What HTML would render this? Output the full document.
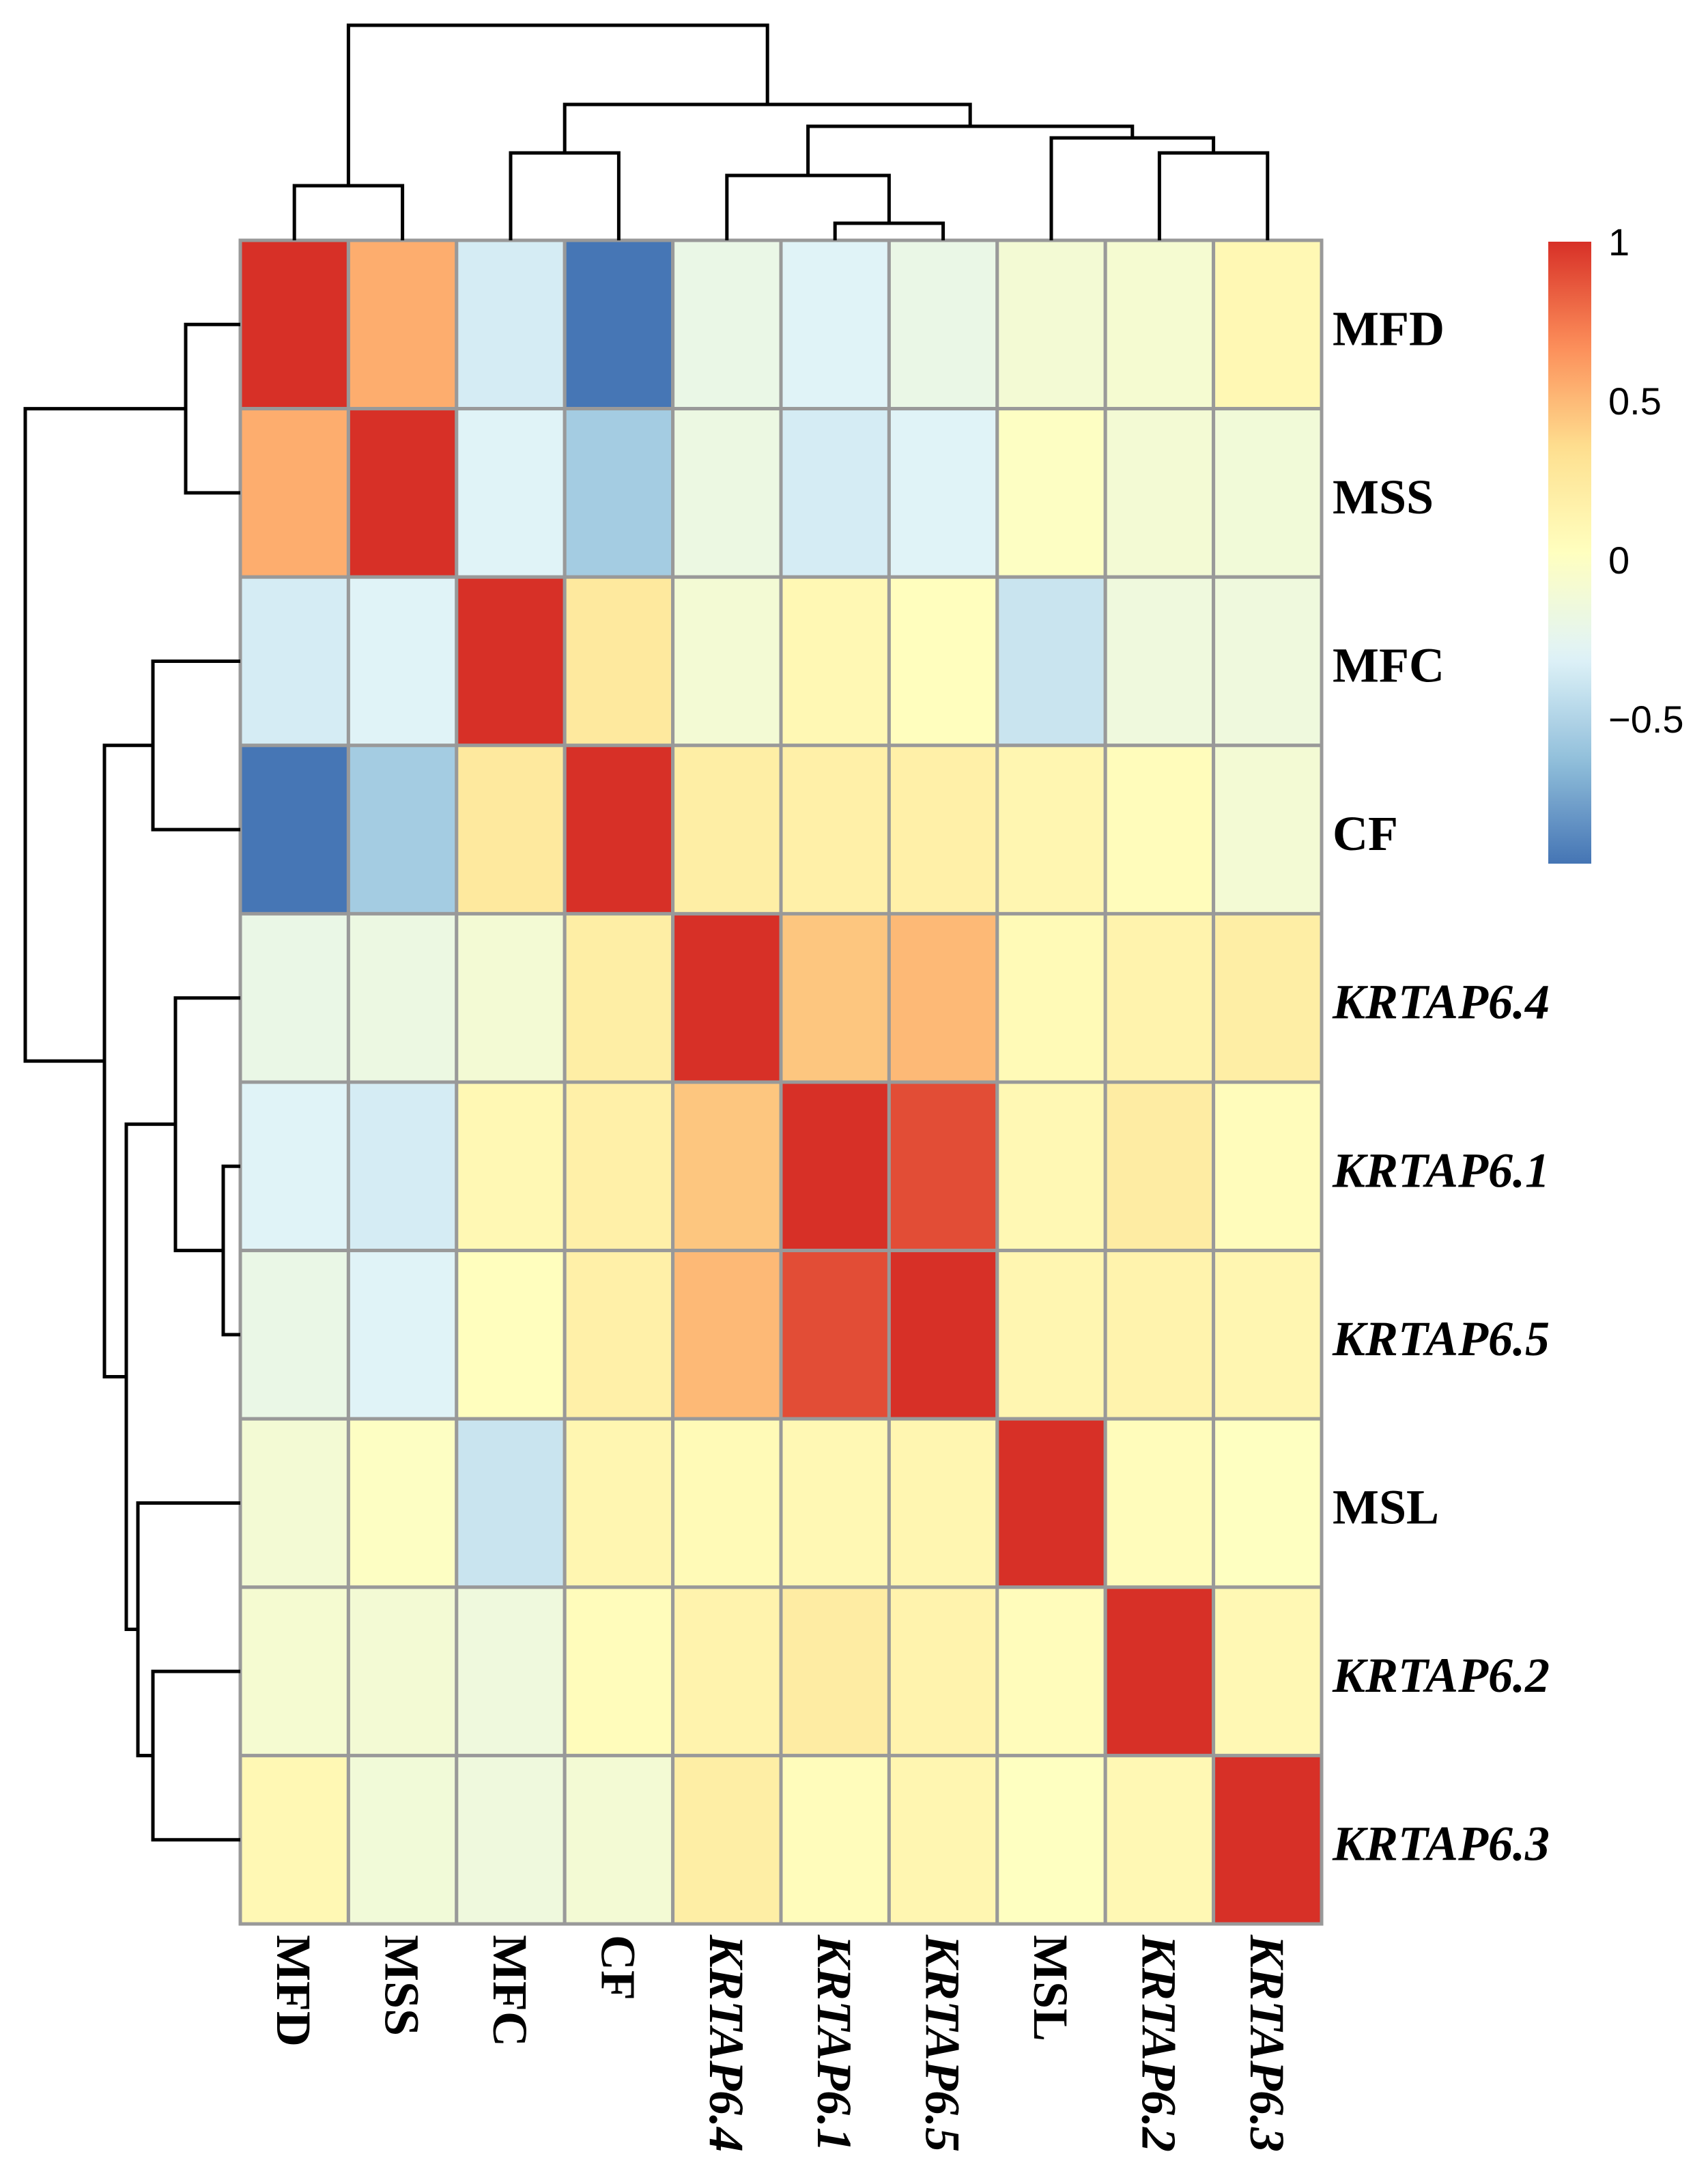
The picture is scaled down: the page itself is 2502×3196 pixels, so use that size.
<!DOCTYPE html>
<html><head><meta charset="utf-8"><style>
html,body{margin:0;padding:0;background:#fff}
svg{display:block}
</style></head><body>
<svg id="chart" xmlns="http://www.w3.org/2000/svg" width="2502" height="3196" viewBox="0 0 2502 3196">
<rect width="2502" height="3196" fill="#fff"/>
<g id="cells"></g>
<g id="dendro"></g>
<g id="labels"></g>
<g id="legend"></g>
</svg>
<script>
const labels = ["MFD","MSS","MFC","CF","KRTAP6.4","KRTAP6.1","KRTAP6.5","MSL","KRTAP6.2","KRTAP6.3"];
const italicFlags = [0,0,0,0,1,1,1,0,1,1];
const rowMFD = [1,0.55,-0.35,-0.95,-0.2,-0.3,-0.2,-0.1,-0.08,0.1];
const rowMSS = [0.55,1,-0.3,-0.55,-0.18,-0.35,-0.3,0,-0.1,-0.12];
const rowMFC = [-0.35,-0.3,1,0.25,-0.1,0.1,0.03,-0.4,-0.15,-0.15];
const rowCF = [-0.95,-0.55,0.25,1,0.2,0.18,0.18,0.12,0.05,-0.1];
const rowK64 = [-0.2,-0.18,-0.1,0.2,1,0.45,0.5,0.08,0.15,0.2];
const rowK61 = [-0.3,-0.35,0.1,0.18,0.45,1,0.9,0.1,0.22,0.05];
const rowK65 = [-0.2,-0.3,0.03,0.18,0.5,0.9,1,0.12,0.15,0.12];
const rowMSL = [-0.1,0,-0.4,0.12,0.08,0.1,0.12,1,0.05,0.01];
const rowK62 = [-0.08,-0.1,-0.15,0.05,0.15,0.22,0.15,0.05,1,0.1];
const rowK63 = [0.1,-0.12,-0.15,-0.1,0.2,0.05,0.12,0.01,0.1,1];
const matrix = [rowMFD,rowMSS,rowMFC,rowCF,rowK64,rowK61,rowK65,rowMSL,rowK62,rowK63];
// dendrogram merges: [leftNode, rightNode, height]; leaves 0..9, internal nodes 10+
const merges = [[5,6,25],[0,1,80],[4,10,95],[8,9,128],[2,3,128],[7,13,150],[12,15,167],[14,16,199],[11,17,315]];
const legendTicks = [1,0.5,0,-0.5];
const legendTickText = ["1","0.5","0","\u22120.5"];
const vmin = -0.955, vmax = 1;

const NS="http://www.w3.org/2000/svg";
const X0=352, Y0=352, CW=158.4, CH=246.6, N=labels.length;
const pal=["#4575B4","#91BFDB","#E0F3F8","#FFFFBF","#FEE090","#FC8D59","#D73027"];
function hex(h){return [1,3,5].map(i=>parseInt(h.substr(i,2),16));}
function color(v){let t=(v-vmin)/(vmax-vmin);t=Math.max(0,Math.min(1,t));const p=t*(pal.length-1);const i=Math.min(pal.length-2,Math.floor(p));const f=p-i;const a=hex(pal[i]),b=hex(pal[i+1]);return "rgb("+a.map((c,k)=>Math.round(c+(b[k]-c)*f)).join(",")+")";}
function mk(tag,attrs,parent){const e=document.createElementNS(NS,tag);for(const k in attrs)e.setAttribute(k,attrs[k]);parent.appendChild(e);return e;}
const xs=i=>X0+CW*i, ys=j=>Y0+CH*j;

const cg=document.getElementById('cells');
for(let r=0;r<N;r++)for(let c=0;c<N;c++){
  const el=mk('rect',{x:xs(c),y:ys(r),width:CW,height:CH,fill:color(matrix[r][c]),stroke:"#999999","stroke-width":5},cg);
  
  
}
const dg=document.getElementById('dendro');
const pos=[],hgt=[];
for(let i=0;i<N;i++){pos.push(i+0.5);hgt.push(0);}
merges.forEach(m=>{
  const [a,b,h]=m;
  const ca=X0+CW*pos[a], cb=X0+CW*pos[b];
  const colPath=`M${ca},${Y0-hgt[a]}V${Y0-h}H${cb}V${Y0-hgt[b]}`;
  const el=mk('path',{d:colPath,fill:"none",stroke:"#000","stroke-width":5},dg);
  
  
  const ra=Y0+CH*pos[a], rb=Y0+CH*pos[b];
  const rowPath=`M${X0-hgt[a]},${ra}H${X0-h}V${rb}H${X0-hgt[b]}`;
  const el2=mk('path',{d:rowPath,fill:"none",stroke:"#000","stroke-width":5},dg);
  
  
  pos.push((pos[a]+pos[b])/2);hgt.push(h);
});
const lg=document.getElementById('labels');
labels.forEach((l,i)=>{
  const t=mk('text',{x:1952,y:ys(i)+CH/2+30,"font-family":"Liberation Serif, serif","font-weight":"bold","font-style":italicFlags[i]?"italic":"normal","font-size":72,fill:"#000"},lg);
  t.textContent=l;
  
  
  const cx=xs(i)+CW/2-25;
  const t2=mk('text',{x:cx,y:2834,transform:`rotate(90 ${cx} 2834)`,"font-family":"Liberation Serif, serif","font-weight":"bold","font-style":italicFlags[i]?"italic":"normal","font-size":72,fill:"#000"},lg);
  t2.textContent=l;
  
  
});
const leg=document.getElementById('legend');
const LX=2268,LW=63,LT=354,LB=1265;
const ly=v=>LT+(vmax-v)/(vmax-vmin)*(LB-LT);
const defs=mk('defs',{},leg);
const grad=mk('linearGradient',{id:"lg",x1:0,y1:0,x2:0,y2:1},defs);
for(let k=0;k<=40;k++){const v=vmax-(vmax-vmin)*k/40;mk('stop',{offset:k/40,"stop-color":color(v)},grad);}
const bar=mk('rect',{x:LX,y:LT,width:LW,height:LB-LT,fill:"url(#lg)"},leg);


legendTicks.forEach((v,i)=>{
  const t=mk('text',{x:2356,y:ly(v)+20,"font-family":"Liberation Sans, sans-serif","font-size":56,fill:"#000"},leg);
  t.textContent=legendTickText[i];
  
  
});
</script>
</body></html>
